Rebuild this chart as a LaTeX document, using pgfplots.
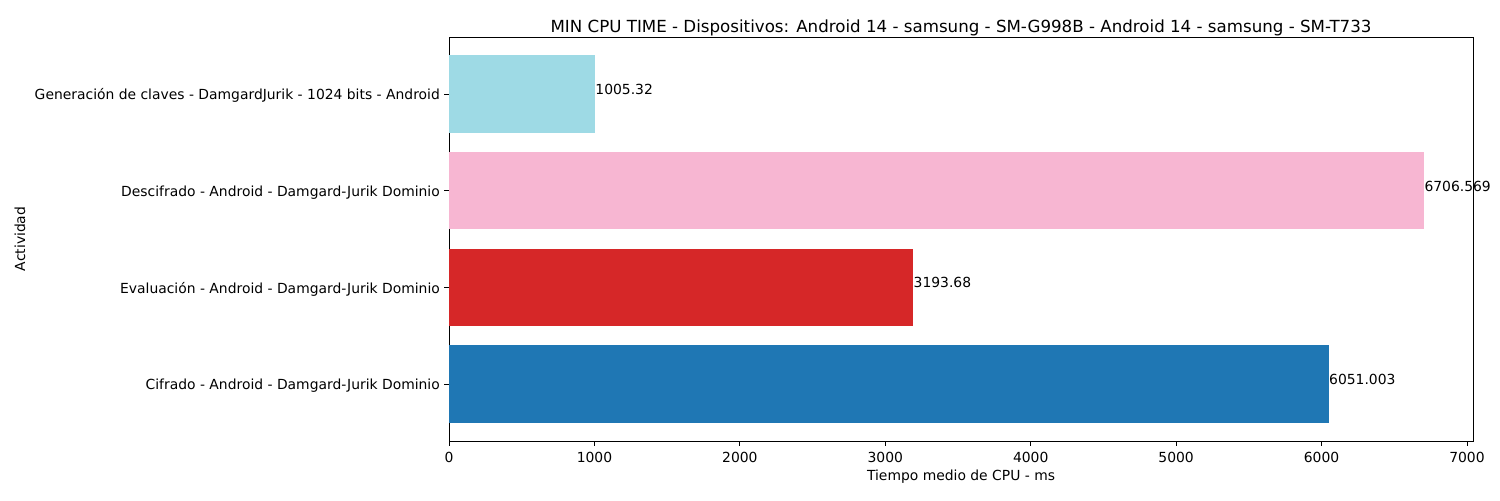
\documentclass[border=0pt]{standalone}
\usepackage{pgfplots}
\pgfplotsset{compat=1.18}
\usepackage{fontspec}
\setmainfont{DejaVu Sans}
\definecolor{c1}{HTML}{1F77B4}
\definecolor{c2}{HTML}{D62728}
\definecolor{c3}{HTML}{F7B6D2}
\definecolor{c4}{HTML}{9EDAE5}
\begin{document}
\begin{tikzpicture}
\path[use as bounding box] (0,0) rectangle (1080pt,360pt);
\begin{axis}[
  at={(323.3pt,42.5pt)}, anchor=south west,
  scale only axis, width=737.3pt, height=290.9pt,
  xmin=0, xmax=7042, ymin=-0.59, ymax=3.59,
  xbar, bar width=0.8, bar shift=0pt,
  xtick={0,1000,...,7000},
  ytick={0,1,2,3},
  yticklabels={Cifrado - Android - Damgard-Jurik Dominio,
    Evaluación - Android - Damgard-Jurik Dominio,
    Descifrado - Android - Damgard-Jurik Dominio,
    Generación de claves - DamgardJurik - 1024 bits - Android},
  tick align=outside, major tick length=3.5pt,
  tick style={black, line width=0.6pt},
  axis line style={line width=0.6pt},
  xtick pos=bottom, ytick pos=left,
  /pgf/number format/assume math mode=true,
  /pgf/number format/1000 sep={},
  ticklabel style={font=\fontsize{10}{12}\selectfont},
  xticklabel style={yshift=-1pt},
  yticklabel style={xshift=0.4pt, yshift=-1.2pt},
  title={MIN CPU TIME - Dispositivos: Android 14 - samsung - SM-G998B - Android 14 - samsung - SM-T733},
  title style={font=\fontsize{12}{14}\selectfont, yshift=-8.6pt},
  xlabel={Tiempo medio de CPU - ms},
  xlabel style={font=\fontsize{10}{12}\selectfont, at={(axis description cs:0.5,-0.089)}, anchor=center},
  ylabel={Actividad},
  ylabel style={font=\fontsize{10}{12}\selectfont, at={(axis description cs:-0.419,0.5)}, anchor=center, rotate=0},
  nodes near coords, point meta=explicit symbolic,
  every node near coord/.append style={anchor=base west, inner sep=0pt, font=\fontsize{10}{12}\selectfont, black, yshift=-0.5pt},
]
\addplot[fill=c1, draw=none] coordinates {(6051.003,0) [6051.003]};
\addplot[fill=c2, draw=none] coordinates {(3193.68,1) [3193.68]};
\addplot[fill=c3, draw=none] coordinates {(6706.569,2) [6706.569]};
\addplot[fill=c4, draw=none] coordinates {(1005.32,3) [1005.32]};
\end{axis}
\end{tikzpicture}
\end{document}
